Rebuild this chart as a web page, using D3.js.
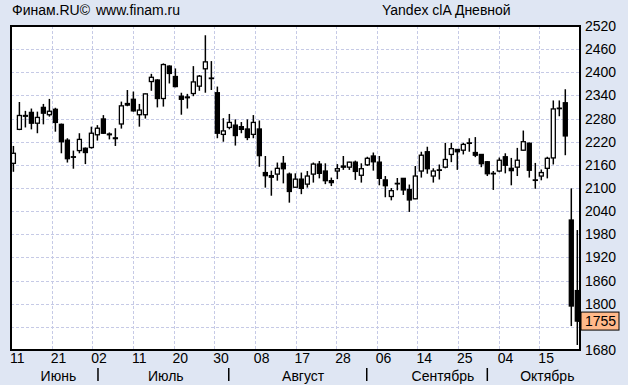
<!DOCTYPE html>
<html lang="ru">
<head>
  <meta charset="UTF-8">
  <title>Yandex clA Дневной</title>
  <script src="https://d3js.org/d3.v7.min.js"></script>
  <style>
    body
    {
      margin: 0;
      background-color: #dfe6f3;
    }

    svg
    {
      display: block;
      font-family: "Liberation Sans", Arial, sans-serif;
    }
  </style>
</head>
<body>
  <svg width="628" height="385"></svg>
  <script>
    // daily candles, oldest first (prices)
    const opens = [2164, 2252, 2286, 2296, 2268, 2309, 2290, 2304, 2265, 2224,
                   2181, 2197, 2203, 2205, 2238, 2279, 2240, 2230, 2266, 2319,
                   2330, 2290, 2290, 2376, 2380, 2332, 2416, 2389, 2338, 2336,
                   2345, 2364, 2409, 2385, 2347, 2239, 2257, 2263, 2259, 2253,
                   2239, 2253, 2140, 2132, 2136, 2164, 2136, 2102, 2123, 2110,
                   2136, 2162, 2144, 2119, 2144, 2157, 2154, 2167, 2133, 2160,
                   2183, 2167, 2121, 2078, 2111, 2125, 2096, 2072, 2144, 2194,
                   2131, 2146, 2154, 2187, 2200, 2198, 2216, 2192, 2187, 2168,
                   2137, 2144, 2181, 2151, 2154, 2198, 2216, 2120, 2131, 2151,
                   2178, 2306, 2321, 2017, 1834];
    const highs = [2209, 2323, 2300, 2306, 2298, 2318, 2331, 2308, 2267, 2229,
                   2197, 2242, 2205, 2259, 2263, 2289, 2244, 2255, 2324, 2354,
                   2350, 2318, 2345, 2396, 2382, 2423, 2418, 2410, 2347, 2344,
                   2416, 2393, 2496, 2429, 2363, 2281, 2292, 2278, 2271, 2278,
                   2289, 2275, 2183, 2145, 2166, 2183, 2140, 2138, 2140, 2144,
                   2166, 2170, 2164, 2127, 2162, 2183, 2168, 2171, 2164, 2181,
                   2192, 2183, 2131, 2100, 2126, 2126, 2109, 2157, 2194, 2207,
                   2151, 2161, 2217, 2217, 2201, 2217, 2229, 2232, 2188, 2170,
                   2144, 2179, 2190, 2178, 2204, 2249, 2218, 2165, 2148, 2181,
                   2327, 2327, 2356, 2099, 1991];
    const lows = [2142, 2250, 2257, 2252, 2242, 2265, 2285, 2246, 2190, 2166,
                  2150, 2190, 2162, 2202, 2223, 2240, 2226, 2209, 2254, 2312,
                  2298, 2259, 2280, 2352, 2309, 2311, 2371, 2361, 2290, 2306,
                  2338, 2352, 2347, 2354, 2229, 2220, 2252, 2210, 2242, 2224,
                  2229, 2155, 2101, 2080, 2119, 2112, 2062, 2101, 2084, 2101,
                  2114, 2125, 2110, 2105, 2123, 2147, 2147, 2121, 2114, 2157,
                  2145, 2107, 2076, 2068, 2094, 2082, 2038, 2071, 2127, 2137,
                  2114, 2122, 2151, 2167, 2147, 2187, 2194, 2180, 2154, 2131,
                  2095, 2141, 2138, 2107, 2131, 2197, 2127, 2098, 2120, 2125,
                  2161, 2286, 2185, 1742, 1693];
    const closes = [2190, 2288, 2288, 2268, 2283, 2294, 2299, 2270, 2220, 2176,
                    2180, 2226, 2192, 2242, 2255, 2242, 2238, 2228, 2313, 2315,
                    2300, 2302, 2344, 2387, 2332, 2420, 2397, 2363, 2330, 2334,
                    2375, 2390, 2427, 2384, 2242, 2248, 2270, 2236, 2252, 2231,
                    2270, 2184, 2132, 2128, 2151, 2150, 2091, 2123, 2099, 2131,
                    2162, 2138, 2119, 2114, 2150, 2154, 2167, 2143, 2150, 2177,
                    2168, 2125, 2106, 2093, 2112, 2095, 2069, 2131, 2185, 2150,
                    2144, 2147, 2174, 2202, 2194, 2213, 2217, 2185, 2163, 2137,
                    2138, 2172, 2159, 2145, 2172, 2220, 2146, 2121, 2140, 2177,
                    2305, 2307, 2235, 1794, 1755];

    const dayTicks = ["11", "21", "02", "11", "20", "30", "08", "17", "28", "06", "14", "25", "04", "15"];
    const months = ["Июнь", "Июль", "Август", "Сентябрь", "Октябрь"];
    const monthCenters = [7.5, 25.4, 48.3, 71.6, 89];   // candle index under each month name
    const monthBreaks = [14.1, 35.9, 58.9, 79.0];       // candle index of the month separators
    const yTicks = d3.range(1680, 2521, 60);
    const lastPrice = 1755;

    const width = 628;
    const height = 385;
    const plot = { left: 11, right: 580, top: 26, bottom: 350 };

    const svg = d3.select("svg")
      .attr("viewBox", [0, 0, width, height])
      .style("font-size", "14px");

    const x = d3.scaleLinear()
      .domain([-0.4, opens.length - 0.55])
      .range([plot.left, plot.right]);

    const y = d3.scaleLinear()
      .domain([1680, 2520])
      .range([plot.bottom, plot.top]);

    // day grid splits the plot into equal parts
    const gx = d3.scaleLinear()
      .domain([0, dayTicks.length])
      .range([plot.left, plot.right]);

    svg.append("rect")
      .attr("width", width)
      .attr("height", height)
      .attr("fill", "#dfe6f3");

    svg.append("rect")
      .attr("x", plot.left)
      .attr("y", plot.top)
      .attr("width", plot.right - plot.left)
      .attr("height", plot.bottom - plot.top)
      .attr("fill", "#fff");

    //grid
    const grid = svg.append("g")
      .attr("stroke", "#c6cae6")
      .attr("stroke-width", 1)
      .attr("stroke-dasharray", "3,2")
      .attr("shape-rendering", "crispEdges");

    grid.selectAll(".hg")
      .data(yTicks.slice(1, -1))
      .join("line")
      .attr("class", "hg")
      .attr("x1", plot.left)
      .attr("x2", plot.right)
      .attr("y1", d => Math.round(y(d)) + 0.5)
      .attr("y2", d => Math.round(y(d)) + 0.5);

    grid.selectAll(".vg")
      .data(d3.range(1, dayTicks.length))
      .join("line")
      .attr("class", "vg")
      .attr("x1", d => Math.round(gx(d)) + 0.5)
      .attr("x2", d => Math.round(gx(d)) + 0.5)
      .attr("y1", plot.top)
      .attr("y2", plot.bottom);

    //candles
    const candles = svg.append("g")
      .selectAll("g")
      .data(opens.map((o, i) => ({ i, o, h: highs[i], l: lows[i], c: closes[i] })))
      .join("g");

    candles.append("line")
      .attr("x1", d => x(d.i))
      .attr("x2", d => x(d.i))
      .attr("y1", d => y(d.h))
      .attr("y2", d => y(d.l))
      .attr("stroke", "#000")
      .attr("stroke-width", 1.5);

    candles.append("rect")
      .attr("x", d => x(d.i) - 2)
      .attr("width", 4)
      .attr("y", d => y(Math.max(d.o, d.c)))
      .attr("height", d => Math.max(0.5, Math.abs(y(d.o) - y(d.c))))
      .attr("fill", d => d.c < d.o ? "#000" : "#fff")
      .attr("stroke", "#000")
      .attr("stroke-width", 1.3);

    // plot frame
    svg.append("rect")
      .attr("x", plot.left)
      .attr("y", plot.top)
      .attr("width", plot.right - plot.left)
      .attr("height", plot.bottom - plot.top)
      .attr("fill", "none")
      .attr("stroke", "#000")
      .attr("stroke-width", 2);

    //price axis, the level hidden by the last price box is left out
    svg.append("g")
      .selectAll("text")
      .data(yTicks.filter(d => Math.abs(d - lastPrice) > 30))
      .join("text")
      .attr("x", plot.right + 5)
      .attr("y", d => y(d))
      .attr("dy", "0.36em")
      .text(d => d);

    // last price marker
    const ly = y(lastPrice);
    svg.append("line")
      .attr("x1", x(opens.length - 1))
      .attr("x2", plot.right + 2)
      .attr("y1", ly)
      .attr("y2", ly)
      .attr("stroke", "#000")
      .attr("stroke-width", 1.5);

    svg.append("rect")
      .attr("x", plot.right + 1)
      .attr("y", ly - 9)
      .attr("width", 38)
      .attr("height", 18)
      .attr("fill", "#ffb98a")
      .attr("stroke", "#000")
      .attr("stroke-width", 1);

    svg.append("text")
      .attr("x", plot.right + 5)
      .attr("y", ly)
      .attr("dy", "0.36em")
      .text(lastPrice);

    //date axis
    svg.append("g")
      .selectAll("text")
      .data(dayTicks)
      .join("text")
      .attr("x", (d, i) => gx(i) - 1)
      .attr("y", 363)
      .text(d => d);

    svg.append("g")
      .selectAll("text")
      .data(months)
      .join("text")
      .attr("x", (d, i) => x(monthCenters[i]))
      .attr("y", 381)
      .attr("text-anchor", "middle")
      .text(d => d);

    svg.append("g")
      .selectAll("line")
      .data(monthBreaks)
      .join("line")
      .attr("x1", d => x(d))
      .attr("x2", d => x(d))
      .attr("y1", 368)
      .attr("y2", 381)
      .attr("stroke", "#000")
      .attr("stroke-width", 1.5);

    // header
    svg.append("text")
      .attr("x", 12)
      .attr("y", 15)
      .text("Финам.RU©");

    svg.append("text")
      .attr("x", 96)
      .attr("y", 15)
      .text("www.finam.ru");

    svg.append("text")
      .attr("x", 382)
      .attr("y", 15)
      .text("Yandex clA Дневной");
  </script>
</body>
</html>
